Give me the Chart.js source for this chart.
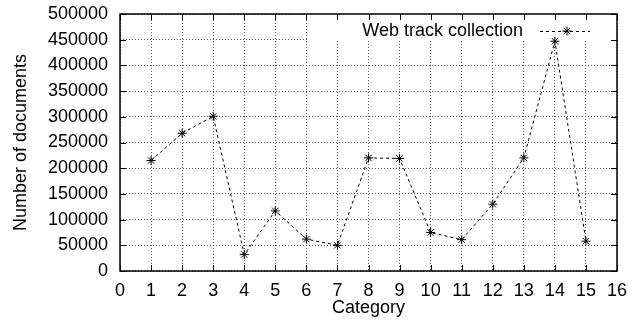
<!DOCTYPE html>
<html>
<head>
<meta charset="utf-8">
<script src="https://cdn.jsdelivr.net/npm/chart.js@4/dist/chart.umd.min.js"></script>
<style>
  html, body { margin: 0; padding: 0; background: #fff; }
  #wrap { width: 638px; height: 328px; }
</style>
</head>
<body>
<div id="wrap"><canvas id="chart"></canvas></div>
<script>
// values
const categories = [1, 2, 3, 4, 5, 6, 7, 8, 9, 10, 11, 12, 13, 14, 15];
const documents = [215000, 268000, 301000, 32000, 117000, 62000, 50000, 220000, 219000, 75000, 61000, 130000, 220000, 447000, 58000];
const seriesLabel = 'Web track collection';

const FONT = { family: '"Liberation Sans", Arial, Helvetica, sans-serif', size: 18 };

// gnuplot style: box border, inward ticks on all sides, opaque key box
const frame = {
  id: 'frame',
  beforeDatasetsDraw(chart) {
    const { ctx, scales: { x, y } } = chart;
    // key area hides the grid behind it
    ctx.save();
    ctx.fillStyle = '#fff';
    const l = x.getPixelForValue(6) + 1, r = x.getPixelForValue(16);
    const t = y.getPixelForValue(500000), b = y.getPixelForValue(450000) + 1;
    ctx.fillRect(l, t, r - l, b - t);
    ctx.restore();
  },
  afterDatasetsDraw(chart) {
    const { ctx, chartArea: a, scales: { x, y } } = chart;
    ctx.save();
    ctx.strokeStyle = '#000';
    ctx.lineWidth = 1;
    const tl = 6;
    ctx.beginPath();
    x.ticks.forEach(tk => {
      const px = Math.round(x.getPixelForValue(tk.value)) + 0.5;
      ctx.moveTo(px, a.bottom); ctx.lineTo(px, a.bottom - tl);
      ctx.moveTo(px, a.top); ctx.lineTo(px, a.top + tl);
    });
    y.ticks.forEach(tk => {
      const py = Math.round(y.getPixelForValue(tk.value)) + 0.5;
      ctx.moveTo(a.left, py); ctx.lineTo(a.left + tl, py);
      ctx.moveTo(a.right, py); ctx.lineTo(a.right - tl, py);
    });
    ctx.stroke();
    ctx.lineWidth = 1.5;
    ctx.strokeRect(a.left, a.top, a.right - a.left, a.bottom - a.top);

    // key
    const ky = a.top + 17;
    ctx.font = `${FONT.size}px ${FONT.family}`;
    ctx.fillStyle = '#000';
    ctx.textAlign = 'right';
    ctx.textBaseline = 'middle';
    ctx.fillText(seriesLabel, a.right - 94, ky);
    ctx.lineWidth = 1;
    ctx.setLineDash([3, 3]);
    ctx.beginPath();
    ctx.moveTo(a.right - 77, ky + 0.5); ctx.lineTo(a.right - 27, ky + 0.5);
    ctx.stroke();
    ctx.setLineDash([]);
    Chart.helpers.drawPoint(ctx, { pointStyle: 'star', radius: 4.5, borderWidth: 1 }, a.right - 50, ky);
    ctx.restore();
  }
};

new Chart(document.getElementById('chart'), {
  type: 'line',
  data: {
    datasets: [{
      label: seriesLabel,
      data: categories.map((c, i) => ({ x: c, y: documents[i] })),
      borderColor: '#000',
      backgroundColor: '#000',
      borderWidth: 1,
      borderDash: [3, 3],
      pointStyle: 'star',
      pointRadius: 4.5,
      pointBorderWidth: 1,
      pointBorderColor: '#000',
      tension: 0,
      fill: false
    }]
  },
  plugins: [frame],
  options: {
    responsive: true,
    maintainAspectRatio: false,
    animation: false,
    layout: { padding: { left: 0, right: 21, top: 14, bottom: 0 } },
    plugins: { legend: { display: false }, tooltip: { enabled: false } },
    scales: {
      x: {
        type: 'linear',
        min: 0, max: 16,
        ticks: { stepSize: 1, color: '#000', font: FONT, padding: 9, maxRotation: 0 },
        grid: { color: '#555', drawTicks: false },
        border: { display: false, dash: [1, 2] },
        title: { display: true, text: 'Category', color: '#000', font: FONT, padding: { top: 0, bottom: 9 } },
        afterFit: s => { s.height = 57; s.paddingLeft = 0; s.paddingRight = 0; }
      },
      y: {
        min: 0, max: 500000,
        ticks: { stepSize: 50000, color: '#000', font: FONT, padding: 12, callback: v => String(v) },
        grid: { color: '#555', drawTicks: false },
        border: { display: false, dash: [1, 2] },
        title: { display: true, text: 'Number of documents', color: '#000', font: FONT, padding: { top: 10, bottom: 0 } },
        afterFit: s => { s.width = 120; s.paddingTop = 0; s.paddingBottom = 0; }
      }
    }
  }
});
</script>
</body>
</html>
